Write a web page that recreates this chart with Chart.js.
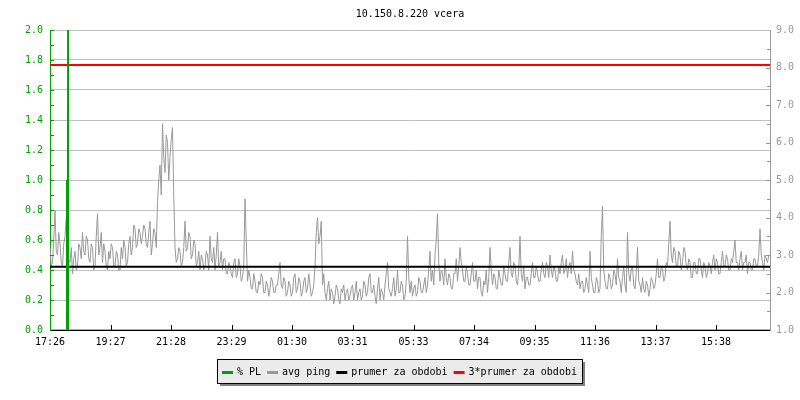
<!DOCTYPE html>
<html>
<head>
<meta charset="utf-8">
<title>10.150.8.220 vcera</title>
<script src="https://cdn.jsdelivr.net/npm/chart.js@4.4.1/dist/chart.umd.min.js"></script>
<style>
  html, body { margin: 0; padding: 0; background: #fff; }
</style>
</head>
<body>
<canvas id="chart" width="800" height="400"></canvas>
<script>
const chartTitle = "10.150.8.220 vcera";

// x axis: minutes since 17:26, 24 hours
const xTickMinutes = [0, 121, 242, 363, 484, 605, 727, 848, 969, 1090, 1211, 1332];
const xTickLabels = ["17:26", "19:27", "21:28", "23:29", "01:30", "03:31", "05:33", "07:34", "09:35", "11:36", "13:37", "15:38"];

// avg ping in ms, one sample every 2.5 minutes (one row = 2 hours)
const pingStep = 2.5;
const pingMs = [
    3.2,2.7, 2.8,3.4, 4.2,3.1, 3.0,3.6, 3.3,2.8, 2.7,3.3, 3.5,4.0, 4.4,2.9, 2.8,3.2, 2.5,2.9, 3.1,2.6, 2.7,3.3, 3.2,2.9, 3.6,3.1, 3.0,3.5, 3.4,2.9, 2.8,3.3, 3.2,2.6, 2.7,3.5, 4.1,3.0, 3.2,3.6, 2.8,3.3, 3.1,2.7, 2.6,3.1,
    2.9,3.3, 3.2,2.7, 2.7,3.1, 3.0,2.6, 2.6,3.2, 2.9,3.4, 3.2,2.7, 2.8,3.3, 3.5,3.0, 3.2,3.8, 3.7,3.2, 3.3,3.7, 3.6,3.3, 3.5,3.8, 3.7,3.3, 3.2,3.6, 3.9,3.0, 3.3,3.7, 3.6,3.2, 4.4,5.0, 5.4,4.6, 6.5,5.6, 5.2,6.2, 6.0,5.0,
    5.6,6.1, 6.4,4.6, 3.2,2.8, 2.9,3.2, 3.1,2.7, 2.8,3.2, 3.9,3.1, 3.2,3.6, 3.5,2.9, 3.0,3.4, 3.3,2.7, 2.8,3.1, 2.6,3.0, 2.9,2.6, 2.7,3.1, 3.0,2.6, 3.5,2.9, 2.8,3.2, 2.6,3.0, 3.6,2.7, 2.8,3.1, 2.6,2.9, 2.9,2.5, 2.5,2.8,
    2.7,2.5, 2.4,2.8, 2.9,2.4, 2.5,2.9, 2.7,2.3, 2.4,2.7, 4.5,3.4, 2.3,2.6, 2.4,2.1, 2.1,2.5, 2.3,2.0, 2.0,2.3, 2.2,2.5, 2.4,2.0, 2.0,2.3, 2.2,1.9, 2.1,2.4, 2.3,2.0, 2.0,2.2, 2.2,2.5, 2.8,2.2, 2.1,2.4, 2.3,1.9, 2.0,2.3,
    2.2,1.9, 2.0,2.4, 2.5,2.0, 2.1,2.4, 2.3,1.9, 2.0,2.3, 2.4,2.0, 2.1,2.5, 2.2,1.9, 2.0,2.2, 2.7,3.6, 4.0,3.3, 3.5,3.9, 2.2,2.5, 2.0,1.8, 2.1,2.3, 1.8,2.1, 2.0,1.7, 1.9,2.2, 2.1,1.8, 1.7,2.1, 2.0,2.2, 1.8,2.0, 2.1,1.8,
    1.9,2.1, 2.2,1.8, 2.0,2.3, 1.8,2.0, 2.1,1.8, 1.9,2.3, 2.2,1.9, 2.0,2.4, 2.5,2.0, 2.0,2.2, 1.9,1.7, 2.1,2.4, 1.8,2.1, 2.0,1.8, 2.2,2.5, 2.8,2.1, 2.0,1.9, 2.1,2.4, 1.9,2.1, 2.6,2.0, 2.0,2.3, 2.2,1.8, 1.9,2.3, 3.5,2.4,
    2.0,2.3, 1.9,2.1, 2.2,1.9, 2.0,2.4, 2.3,2.0, 2.0,2.2, 2.4,2.0, 2.2,2.6, 3.1,2.3, 2.6,2.2, 3.0,3.4, 4.1,2.8, 2.3,2.6, 2.5,2.2, 2.9,2.4, 2.2,2.5, 2.4,2.1, 2.1,2.5, 2.5,2.9, 2.3,2.7, 3.2,2.8, 2.6,2.3, 2.3,2.7, 2.5,2.2,
    2.2,2.5, 2.8,2.3, 2.3,2.6, 2.1,2.4, 2.4,2.0, 1.9,2.3, 2.2,2.6, 2.0,2.4, 3.2,2.6, 2.2,2.5, 2.4,2.1, 2.1,2.6, 2.4,2.2, 2.2,2.7, 2.5,2.3, 2.3,2.8, 3.2,2.5, 2.4,2.8, 2.7,2.3, 2.2,2.6, 3.5,2.5, 2.3,2.7, 2.1,2.4, 2.4,2.2,
    2.2,2.5, 2.8,2.4, 2.4,2.7, 2.5,2.3, 2.3,2.6, 2.8,2.5, 2.4,2.8, 2.7,2.4, 3.0,2.6, 2.4,2.7, 2.6,2.3, 2.3,2.7, 2.5,2.8, 3.0,2.5, 2.6,2.9, 2.4,2.7, 2.8,2.5, 3.1,2.6, 2.5,2.3, 2.2,2.5, 2.1,2.3, 2.3,2.0, 2.1,2.4, 2.2,2.0,
    3.1,2.4, 2.2,2.0, 2.0,2.4, 2.3,2.0, 2.1,3.5, 4.3,2.6, 2.3,2.1, 2.1,2.5, 2.4,2.1, 2.2,2.6, 2.5,2.2, 2.9,2.4, 2.3,2.0, 2.4,2.7, 2.2,2.0, 3.6,2.5, 2.3,2.6, 2.7,2.2, 2.1,2.5, 3.2,2.3, 2.2,2.0, 2.4,2.1, 2.0,2.3, 2.2,1.9,
    2.1,2.4, 2.3,2.1, 2.2,2.5, 2.9,2.4, 2.4,2.7, 2.6,2.3, 2.4,2.8, 2.7,3.3, 3.9,3.0, 2.8,3.2, 3.1,2.7, 2.7,3.1, 3.0,2.6, 2.8,3.2, 3.1,2.7, 2.6,2.9, 2.8,2.4, 2.4,2.8, 2.8,2.5, 2.5,2.9, 2.9,2.6, 2.4,2.8, 2.7,2.4, 2.5,2.8,
    2.7,2.5, 2.8,3.0, 2.6,2.9, 2.8,2.5, 2.5,2.8, 3.1,2.7, 2.7,3.0, 2.9,2.6, 2.6,2.9, 2.8,3.1, 3.4,2.8, 2.8,2.6, 2.9,3.1, 2.6,2.8, 2.8,3.0, 2.5,2.8, 2.8,2.6, 2.6,2.9, 2.9,2.7, 2.7,3.0, 3.7,3.0, 2.8,2.6, 3.0,2.9, 2.8,3.0
];

// packet loss in %, only non-zero around 18:00
const plMinutes = [0, 32, 33, 34, 35, 36, 37, 1440];
const plValues = [0, 0, 1.0, 0, 1.0, 5.0, 0, 0];

// period average and 3x average (ms)
const pingAvg = 2.69;
const pingAvg3 = 8.07;

const FONT = '"DejaVu Sans Mono", "Liberation Mono", monospace';
const GREEN = '#00a000';
const GRAY = '#999999';

const pingData = pingMs.map((v, i) => ({ x: i * pingStep, y: v }));
const plData = plMinutes.map((m, i) => ({ x: m, y: plValues[i] }));

// title, inner tick marks and framed legend like the rrd graph
const rrdLook = {
    id: 'rrdLook',
    afterDraw(chart) {
        const ctx = chart.ctx;
        const area = chart.chartArea;
        const yL = chart.scales.y;
        const yR = chart.scales.y2;
        const xs = chart.scales.x;
        ctx.save();

        // title
        ctx.font = '10px ' + FONT;
        ctx.fillStyle = '#000';
        ctx.textAlign = 'center';
        ctx.textBaseline = 'middle';
        ctx.fillText(chartTitle, (area.left + area.right) / 2, 14);

        // left ticks every 0.1
        ctx.lineWidth = 1;
        ctx.strokeStyle = GREEN;
        ctx.beginPath();
        for (let i = 1; i <= 20; i++) {
            const py = Math.round(yL.getPixelForValue(i / 10)) + 0.5;
            ctx.moveTo(area.left, py);
            ctx.lineTo(area.left + 4, py);
        }
        ctx.stroke();

        // right ticks every 0.5
        ctx.strokeStyle = GRAY;
        ctx.beginPath();
        for (let i = 3; i < 18; i++) {
            const py = Math.round(yR.getPixelForValue(i / 2)) + 0.5;
            ctx.moveTo(area.right, py);
            ctx.lineTo(area.right - (i % 2 === 0 ? 4 : 3), py);
        }
        ctx.stroke();

        // x ticks pointing up
        ctx.strokeStyle = '#000';
        ctx.beginPath();
        xTickMinutes.forEach(m => {
            if (m === 0) return;
            const px = Math.round(xs.getPixelForValue(m)) + 0.5;
            ctx.moveTo(px, area.bottom);
            ctx.lineTo(px, area.bottom - 5);
        });
        ctx.stroke();

        // legend box
        const items = chart.data.datasets.map(d => ({ text: d.label, color: d.borderColor }));
        ctx.font = '10px ' + FONT;
        let w = 10;
        items.forEach((it, i) => {
            it.w = ctx.measureText(it.text).width;
            w += 11 + 4 + it.w + (i < items.length - 1 ? 6 : 0);
        });
        w = Math.round(w);
        const bx = Math.round(399 - w / 2);
        const by = 359;
        const bh = 24;
        ctx.fillStyle = '#808080';
        ctx.fillRect(bx + 3, by + 3, w, bh);
        ctx.fillStyle = '#ebebeb';
        ctx.fillRect(bx, by, w, bh);
        ctx.strokeStyle = '#000';
        ctx.strokeRect(bx + 0.5, by + 0.5, w, bh);

        let cx = bx + 5;
        ctx.textAlign = 'left';
        ctx.textBaseline = 'middle';
        items.forEach(it => {
            ctx.fillStyle = it.color;
            ctx.fillRect(cx, by + 12, 11, 3);
            cx += 15;
            ctx.fillStyle = '#000';
            ctx.fillText(it.text, cx, by + 13);
            cx += it.w + 6;
        });

        ctx.restore();
    }
};

new Chart(document.getElementById('chart'), {
    type: 'line',
    data: {
        datasets: [
            {
                label: '% PL',
                data: plData,
                yAxisID: 'y',
                borderColor: GREEN,
                borderWidth: 1,
                pointRadius: 0,
                order: 0
            },
            {
                label: 'avg ping',
                data: pingData,
                yAxisID: 'y2',
                borderColor: GRAY,
                borderWidth: 1,
                pointRadius: 0,
                order: 3
            },
            {
                label: 'prumer za obdobi',
                data: [{ x: 0, y: pingAvg }, { x: 1440, y: pingAvg }],
                yAxisID: 'y2',
                borderColor: '#000000',
                borderWidth: 2,
                pointRadius: 0,
                order: 2
            },
            {
                label: '3*prumer za obdobi',
                data: [{ x: 0, y: pingAvg3 }, { x: 1440, y: pingAvg3 }],
                yAxisID: 'y2',
                borderColor: '#ff0000',
                borderWidth: 2,
                pointRadius: 0,
                order: 1
            }
        ]
    },
    options: {
        responsive: false,
        devicePixelRatio: 1,
        animation: false,
        layout: { padding: { top: 30, left: 0, right: 0, bottom: 0 } },
        plugins: {
            legend: { display: false },
            title: { display: false },
            tooltip: { enabled: false }
        },
        scales: {
            x: {
                type: 'linear',
                min: 0,
                max: 1440,
                grid: { display: false, drawTicks: false },
                border: { color: '#000', width: 1 },
                ticks: {
                    color: '#000',
                    font: { family: FONT, size: 10 },
                    padding: 6,
                    maxRotation: 0,
                    autoSkip: false,
                    callback: v => {
                        const i = xTickMinutes.indexOf(v);
                        return i >= 0 ? xTickLabels[i] : '';
                    }
                },
                afterBuildTicks: s => { s.ticks = xTickMinutes.map(v => ({ value: v })); },
                afterFit: s => { s.height = 70; }
            },
            y: {
                position: 'left',
                min: 0,
                max: 2,
                grid: {
                    color: c => (c.tick && c.tick.value === 0) ? 'rgba(0,0,0,0)' : '#c0c0c0',
                    drawTicks: false
                },
                border: { color: GREEN, width: 1 },
                ticks: {
                    stepSize: 0.2,
                    color: GREEN,
                    font: { family: FONT, size: 10 },
                    padding: 7,
                    callback: v => v.toFixed(1)
                },
                afterFit: s => { s.width = 50; }
            },
            y2: {
                position: 'right',
                min: 1,
                max: 9,
                grid: { display: false, drawTicks: false },
                border: { color: GRAY, width: 1 },
                ticks: {
                    stepSize: 1,
                    color: GRAY,
                    font: { family: FONT, size: 10 },
                    padding: 6,
                    callback: v => v.toFixed(1)
                },
                afterFit: s => { s.width = 30; }
            }
        }
    },
    plugins: [rrdLook]
});
</script>
</body>
</html>
